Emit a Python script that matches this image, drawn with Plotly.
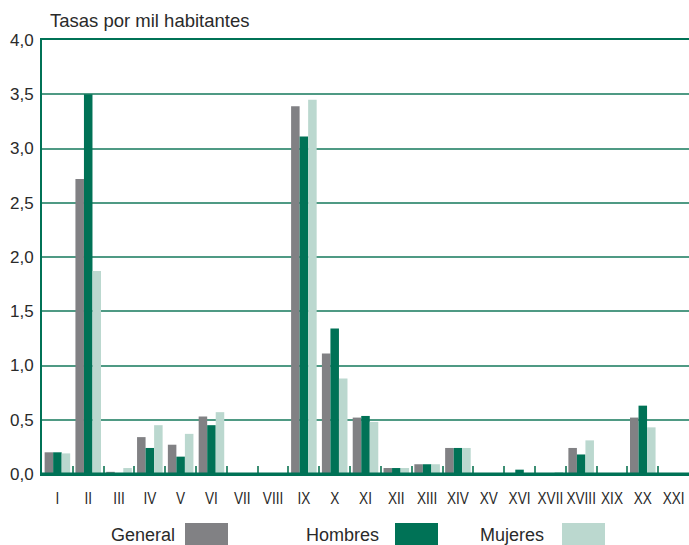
import plotly.graph_objects as go

categorias = ["I", "II", "III", "IV", "V", "VI", "VII", "VIII", "IX", "X", "XI",
              "XII", "XIII", "XIV", "XV", "XVI", "XVII", "XVIII", "XIX", "XX", "XXI"]
general = [0.20, 2.72, 0.02, 0.34, 0.27, 0.53, 0, 0, 3.39, 1.11, 0.52,
           0.055, 0.09, 0.24, 0, 0, 0, 0.24, 0, 0.52, 0]
hombres = [0.20, 3.50, 0, 0.24, 0.16, 0.45, 0, 0, 3.11, 1.34, 0.535,
           0.055, 0.09, 0.24, 0, 0.04, 0, 0.18, 0, 0.63, 0]
mujeres = [0.19, 1.87, 0.055, 0.45, 0.37, 0.57, 0, 0, 3.45, 0.88, 0.48,
           0.055, 0.09, 0.24, 0, 0, 0.01, 0.31, 0, 0.43, 0]
y_ticks = [0, 0.5, 1.0, 1.5, 2.0, 2.5, 3.0, 3.5, 4.0]

series = [("General", general, "#818184"),
          ("Hombres", hombres, "#007256"),
          ("Mujeres", mujeres, "#bbd8cf")]

FONT = "Liberation Sans, Arial, sans-serif"
TXT = "#2a2a2a"

fig = go.Figure()
for name, vals, col in series:
    fig.add_trace(go.Bar(x=categorias, y=vals, name=name, marker_color=col,
                         marker_line_width=0, showlegend=False))

fig.update_layout(
    width=689, height=545,
    margin=dict(l=42, r=0, t=40, b=71, autoexpand=False),
    paper_bgcolor="white", plot_bgcolor="white",
    barmode="group", bargap=0.17, bargroupgap=0,
    separators=",.",
    font=dict(family=FONT, size=17, color=TXT),
    xaxis=dict(showline=True, linecolor="#007256", linewidth=2, mirror=True,
               ticks="inside", tickson="boundaries", ticklen=8, tickwidth=2,
               tickcolor="#3d8f74", showgrid=False, tickangle=0,
               automargin=False, ticklabelstandoff=8,
               tickfont=dict(size=17, color=TXT)),
    yaxis=dict(range=[0, 4.0], tickvals=y_ticks, tickformat=".1f",
               showline=True, linecolor="#007256", linewidth=2,
               showgrid=True, gridcolor="#4f9a84", gridwidth=2,
               zeroline=False, ticks="", ticklen=0, automargin=False,
               ticklabelstandoff=3,
               tickfont=dict(size=17, color=TXT)),
)

# bottom baseline
fig.add_shape(type="line", xref="paper", yref="y", x0=0, x1=1, y0=0, y1=0,
              line=dict(color="#007256", width=3), layer="above")

# title
fig.add_annotation(text="Tasas por mil habitantes", xref="paper", yref="paper",
                   x=(50 - 42) / 647, y=1.0, yshift=7, xanchor="left", yanchor="bottom",
                   showarrow=False, xshift=-2, font=dict(size=18.5, color=TXT))

# custom legend (text then swatch)
legend_pos = [(176, 185), (380, 395), (545, 562)]
for (name, vals, col), (tx, sx) in zip(series, legend_pos):
    fig.add_annotation(text=name, xref="paper", yref="paper",
                       x=(tx - 42) / 647, y=-(535 - 474) / 434,
                       xanchor="right", yanchor="middle", showarrow=False,
                       xshift=1, font=dict(size=18, color=TXT))
    fig.add_shape(type="rect", xref="paper", yref="paper",
                  x0=(sx - 42) / 647, x1=(sx + 43 - 42) / 647,
                  y0=-(546 - 474) / 434, y1=-(523 - 474) / 434,
                  fillcolor=col, line_width=0)

# condense the x tick labels (the reference uses a narrow typeface)
post = """
document.body.style.margin='0';
document.body.style.overflow='hidden';
document.querySelectorAll('.xtick text').forEach(function(t){
  var w = t.getComputedTextLength();
  t.setAttribute('lengthAdjust','spacingAndGlyphs');
  t.setAttribute('textLength', (w*0.8).toFixed(2));
});
"""

fig.write_html("out.html", config={"displayModeBar": False}, post_script=post)
